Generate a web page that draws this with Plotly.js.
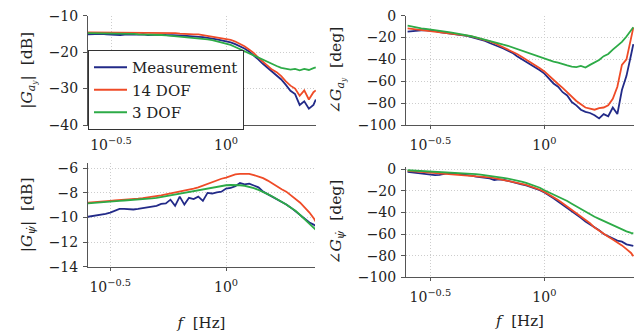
<!DOCTYPE html>
<html>
<head>
<meta charset="utf-8">
<script src="https://cdn.plot.ly/plotly-3.0.1.min.js"></script>
<style>html,body{margin:0;padding:0;background:#fff;}#chart{width:636px;height:332px;}</style>
</head>
<body>
<div id="chart"></div>
<script>
// Frequency grid [Hz]
const freq = [0.2512,0.2630,0.2754,0.2884,0.3020,0.3162,0.3311,0.3467,0.3631,0.3802,
0.3981,0.4169,0.4365,0.4571,0.4786,0.5012,0.5248,0.5495,0.5754,0.6026,
0.6310,0.6607,0.6918,0.7244,0.7586,0.7943,0.8318,0.8710,0.9120,0.9550,
1.0000,1.0471,1.0965,1.1482,1.2023,1.2589,1.3183,1.3804,1.4454,1.5136,
1.5849,1.6596,1.7378,1.8197,1.9055,1.9953,2.0893,2.1878,2.2909,2.3988,2.4547];

// |G_ay| [dB]
const magAyMeas = [-15.1,-15.0,-15.1,-15.0,-15.1,-15.2,-15.1,-15.3,-15.2,-15.1,
-15.2,-15.2,-15.1,-15.3,-15.2,-15.3,-15.2,-15.3,-15.3,-15.4,
-15.5,-15.5,-15.6,-15.6,-15.8,-15.9,-16.0,-16.3,-16.5,-16.7,
-17.0,-17.3,-17.8,-18.3,-19.0,-19.8,-20.8,-22.0,-23.2,-24.3,
-25.5,-26.5,-27.5,-29.0,-30.6,-31.5,-34.5,-33.5,-35.5,-34.5,-33.0];
const magAy14 = [-14.6,-14.6,-14.6,-14.6,-14.6,-14.6,-14.6,-14.6,-14.6,-14.6,
-14.6,-14.6,-14.7,-14.7,-14.7,-14.7,-14.8,-14.7,-14.8,-14.8,
-14.9,-15.0,-15.0,-15.1,-15.1,-15.3,-15.4,-15.6,-15.8,-16.0,
-16.3,-16.6,-17.1,-17.7,-18.4,-19.3,-20.2,-21.5,-22.6,-23.5,
-24.8,-25.5,-26.6,-28.0,-29.2,-30.0,-32.0,-30.5,-33.0,-31.0,-30.5];
const magAy3 = [-14.8,-14.8,-14.8,-14.8,-14.8,-14.9,-14.9,-14.9,-15.0,-15.0,
-15.0,-15.1,-15.1,-15.2,-15.2,-15.3,-15.3,-15.4,-15.5,-15.6,
-15.7,-15.8,-15.9,-16.0,-16.1,-16.3,-16.5,-16.7,-17.0,-17.2,
-17.5,-18.0,-18.6,-19.2,-19.8,-20.4,-21.0,-21.6,-22.2,-22.8,
-23.4,-23.8,-24.3,-24.5,-24.8,-24.6,-25.0,-24.6,-24.9,-24.4,-24.2];

// angle G_ay [deg]
const phAyMeas = [-14.5,-14.0,-13.5,-13.5,-13.3,-13.5,-14.0,-15.0,-15.5,-16.5,
-16.8,-17.0,-17.5,-18.5,-19.5,-20.5,-22.0,-23.0,-25.0,-26.5,
-28.5,-30.0,-32.0,-34.0,-37.0,-39.5,-42.0,-44.5,-47.0,-50.0,
-53.0,-57.5,-62.0,-65.0,-70.0,-73.0,-79.0,-82.0,-86.0,-88.0,
-89.0,-91.0,-94.0,-90.0,-92.0,-84.0,-90.0,-68.0,-55.0,-36.0,-26.0];
const phAy14 = [-11.5,-12.0,-12.5,-13.0,-13.2,-13.5,-14.0,-14.5,-15.0,-15.8,
-16.5,-17.0,-17.5,-18.2,-19.0,-20.0,-21.0,-22.0,-23.5,-25.0,
-27.0,-28.5,-30.5,-32.5,-35.0,-37.5,-40.0,-42.5,-45.0,-48.0,
-51.0,-55.0,-59.0,-62.5,-66.0,-70.0,-74.0,-78.0,-81.0,-84.0,
-85.0,-86.0,-84.5,-84.0,-82.0,-76.0,-65.0,-45.0,-40.0,-22.0,-11.0];
const phAy3 = [-9.0,-10.0,-11.0,-11.5,-12.0,-12.5,-13.0,-14.0,-14.5,-15.0,
-15.8,-16.5,-17.0,-18.0,-18.8,-19.8,-20.8,-22.0,-23.0,-24.0,
-25.0,-26.5,-27.5,-29.0,-30.5,-32.0,-33.5,-35.0,-36.5,-38.0,
-39.0,-40.5,-42.0,-43.0,-44.5,-45.5,-46.5,-47.0,-46.0,-47.5,
-45.0,-43.0,-40.5,-37.0,-35.0,-31.0,-27.5,-24.0,-19.0,-13.5,-10.5];

// |G_psidot| [dB]
const magPsiMeas = [-9.95,-9.9,-9.8,-9.75,-9.7,-9.6,-9.45,-9.3,-9.3,-9.35,
-9.35,-9.3,-9.25,-9.2,-9.1,-9.05,-8.9,-8.85,-8.55,-9.05,
-8.3,-8.95,-8.4,-8.5,-8.3,-8.65,-8.0,-8.05,-7.95,-7.9,
-7.65,-7.6,-7.45,-7.2,-7.3,-7.25,-7.4,-7.55,-7.9,-8.1,
-8.3,-8.5,-8.7,-8.95,-9.2,-9.5,-9.75,-10.05,-10.4,-10.6,-10.75];
const magPsi14 = [-8.8,-8.78,-8.75,-8.72,-8.68,-8.65,-8.62,-8.6,-8.57,-8.53,
-8.5,-8.47,-8.43,-8.38,-8.33,-8.28,-8.2,-8.12,-8.05,-7.98,
-7.9,-7.82,-7.75,-7.65,-7.55,-7.4,-7.3,-7.15,-7.0,-6.85,
-6.75,-6.6,-6.5,-6.45,-6.42,-6.45,-6.55,-6.65,-6.8,-7.0,
-7.25,-7.45,-7.7,-7.9,-8.2,-8.5,-8.8,-9.2,-9.6,-10.1,-10.45];
const magPsi3 = [-8.85,-8.83,-8.8,-8.77,-8.73,-8.7,-8.68,-8.65,-8.62,-8.6,
-8.57,-8.55,-8.52,-8.48,-8.44,-8.4,-8.33,-8.25,-8.17,-8.1,
-8.02,-7.97,-7.92,-7.85,-7.78,-7.7,-7.62,-7.55,-7.48,-7.42,
-7.38,-7.36,-7.35,-7.38,-7.42,-7.5,-7.62,-7.75,-7.9,-8.1,
-8.3,-8.5,-8.75,-8.95,-9.2,-9.45,-9.8,-10.15,-10.5,-10.85,-11.05];

// angle G_psidot [deg]
const phPsiMeas = [-2.5,-3.0,-3.4,-4.0,-5.0,-5.2,-5.6,-5.3,-4.0,-3.4,
-3.8,-4.2,-4.8,-5.5,-6.0,-6.8,-7.2,-7.6,-8.5,-10.0,
-9.4,-9.8,-11.0,-12.0,-12.8,-14.0,-15.0,-16.5,-17.5,-19.5,
-21.5,-24.0,-27.0,-30.0,-33.0,-35.5,-39.0,-41.5,-45.0,-48.5,
-51.0,-54.0,-56.5,-60.0,-62.0,-64.5,-66.0,-67.0,-69.5,-70.5,-71.0];
const phPsi14 = [-1.5,-1.8,-2.1,-2.4,-2.7,-3.0,-3.3,-3.6,-3.9,-4.2,
-4.5,-4.7,-5.0,-5.3,-5.7,-6.1,-6.5,-7.0,-7.5,-8.2,
-9.0,-9.8,-10.6,-11.5,-12.5,-13.5,-14.6,-16.0,-17.4,-19.0,
-21.0,-23.3,-25.8,-28.5,-31.5,-34.5,-37.5,-40.5,-43.5,-47.0,
-50.0,-54.0,-57.0,-60.0,-62.5,-65.0,-67.5,-70.5,-74.0,-77.5,-80.5];
const phPsi3 = [-1.0,-1.2,-1.4,-1.6,-1.8,-2.0,-2.2,-2.4,-2.6,-2.8,
-3.0,-3.2,-3.5,-3.8,-4.2,-4.6,-5.0,-5.5,-6.0,-6.6,
-7.3,-8.0,-8.8,-9.6,-10.5,-11.5,-12.7,-14.0,-15.5,-17.2,
-19.5,-21.5,-23.5,-25.0,-27.0,-29.5,-32.0,-34.5,-37.0,-39.5,
-42.0,-44.0,-46.0,-48.0,-50.0,-51.5,-53.5,-55.5,-57.5,-59.0,-59.5];

const seriesNames = ['Measurement', '14 DOF', '3 DOF'];
const xTickVals = [Math.pow(10, -0.5), 1];
const xTickText = ['10<sup>−0.5</sup>', '10<sup>0</sup>'];
const tickMagAy = [-40, -30, -20, -10];
const tickPh = [-100, -80, -60, -40, -20, 0];
const tickMagPsi = [-14, -12, -10, -8, -6];

const colors = ['#222a88', '#ef4b27', '#2dab47'];
const FONT = 'DejaVu Serif, serif';
const W = 636, H = 332;
const fx = p => p / W;
const fy = p => 1 - p / H;
const lbl = v => String(v).replace('-', '−');
const GRID = {showgrid: true, gridcolor: '#cdcdcd', griddash: '1px,2px', gridwidth: 1};

function xax(d, r, anchor, title, standoff) {
  const a = Object.assign({
    type: 'log', domain: d, range: r, anchor: anchor,
    tickvals: xTickVals, ticktext: xTickText,
    showline: true, linecolor: '#555', linewidth: 1,
    ticks: 'outside', ticklen: 3, tickcolor: '#555', ticklabelstandoff: 4,
    zeroline: false, tickfont: {family: FONT, size: 14, color: '#222'}
  }, GRID);
  if (title) a.title = {text: title, font: {family: FONT, size: 15, color: '#222'}, standoff: standoff};
  return a;
}
function yax(d, r, anchor, tv, title, standoff) {
  return Object.assign({
    domain: d, range: r, anchor: anchor,
    tickvals: tv, ticktext: tv.map(lbl),
    showline: true, linecolor: '#555', linewidth: 1,
    ticks: 'outside', ticklen: 4, tickcolor: '#555', ticklabelstandoff: 2,
    zeroline: false, tickfont: {family: FONT, size: 14, color: '#222'},
    title: {text: title, font: {family: FONT, size: 15.5, color: '#222'}, standoff: standoff}
  }, GRID);
}

const groups = [
  {xa: 'x', ya: 'y', data: [magAyMeas, magAy14, magAy3], legend: true},
  {xa: 'x2', ya: 'y2', data: [phAyMeas, phAy14, phAy3]},
  {xa: 'x3', ya: 'y3', data: [magPsiMeas, magPsi14, magPsi3]},
  {xa: 'x4', ya: 'y4', data: [phPsiMeas, phPsi14, phPsi3]}
];
const traces = [];
groups.forEach(g => {
  g.data.forEach((ys, i) => {
    traces.push({
      x: freq, y: ys, xaxis: g.xa, yaxis: g.ya, type: 'scatter', mode: 'lines',
      name: seriesNames[i], showlegend: !!g.legend,
      line: {color: colors[i], width: 1.8}
    });
  });
});

const layout = {
  width: W, height: H,
  margin: {l: 0, r: 0, t: 0, b: 0},
  paper_bgcolor: '#fff', plot_bgcolor: '#fff',
  font: {family: FONT, size: 14, color: '#222'},
  xaxis: xax([fx(88), fx(316)], [-0.6, 0.391], 'y'),
  yaxis: yax([fy(125), fy(15.7)], [-40, -10], 'x', tickMagAy, '|<i>G</i><sub><i>a</i><sub><i>y</i></sub></sub>|  [dB]', 12),
  xaxis2: xax([fx(406), fx(634)], [-0.607, 0.393], 'y2'),
  yaxis2: yax([fy(125), fy(15.7)], [-100, 0], 'x2', tickPh, '∠<i>G</i><sub><i>a</i><sub><i>y</i></sub></sub>  [deg]', 12),
  xaxis3: xax([fx(88), fx(315)], [-0.596, 0.384], 'y3', '<i>f</i>  [Hz]', 31),
  yaxis3: yax([fy(266.7), fy(163)], [-14, -5.57], 'x3', tickMagPsi, '|<i>G</i><sub><i>ψ̇</i></sub>|  [dB]', 12),
  xaxis4: xax([fx(406), fx(634)], [-0.607, 0.393], 'y4', '<i>f</i>  [Hz]', 11),
  yaxis4: yax([fy(277.3), fy(167)], [-100, 2], 'x4', tickPh, '∠<i>G</i><sub><i>ψ̇</i></sub>  [deg]', 12),
  showlegend: true,
  legend: {
    x: fx(88), y: fy(50), xanchor: 'left', yanchor: 'top',
    bgcolor: '#fff', bordercolor: '#333', borderwidth: 1,
    font: {family: FONT, size: 15, color: '#222'},
    itemwidth: 33, tracegroupgap: 0
  }
};

Plotly.newPlot('chart', traces, layout, {staticPlot: true, displayModeBar: false});
</script>
</body>
</html>
